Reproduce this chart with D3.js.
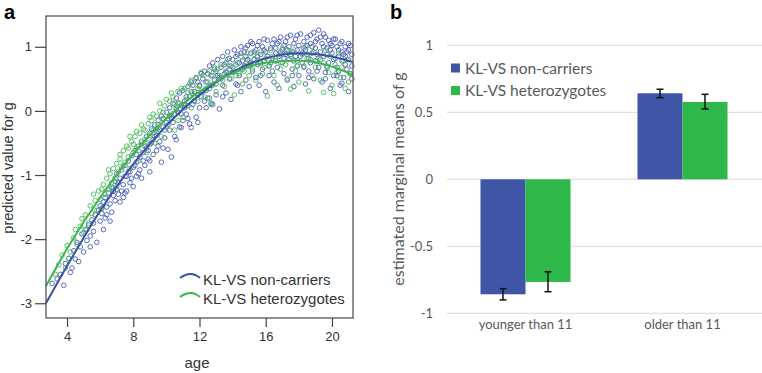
<!DOCTYPE html>
<html>
<head>
<meta charset="utf-8">
<script src="https://cdn.jsdelivr.net/npm/d3@7"></script>
<style>
  body { margin: 0; background: #fff; }
  svg { display: block; }
</style>
</head>
<body>
<span></span>
<script>
// panel a: scatter of predicted g by age, two genotype groups
const nonCarriers = [
  [3.1,-2.69],[3.4,-2.62],[3.6,-2.55],[3.8,-2.72],[3.9,-2.38],[4.1,-2.30],[4.2,-2.52],[4.4,-2.18],[4.5,-2.31],[4.6,-2.05],[4.8,-2.12],[4.9,-1.92],[5.0,-2.20],
  [5.1,-1.85],[5.2,-2.02],[5.3,-1.78],[5.4,-1.95],[5.5,-1.70],[5.6,-1.88],[5.7,-1.62],[5.8,-2.05],[5.9,-1.55],[6.0,-1.72],[6.0,-1.48],[6.1,-1.60],[6.2,-1.42],[6.3,-1.67],[6.3,-1.35],[6.4,-1.50],[6.5,-1.28],[6.6,-1.45],[6.7,-1.20],[6.7,-1.58],[6.8,-1.32],[6.9,-1.10],[6.9,-1.40],[7.0,-1.22],[7.0,-0.98],
  [7.1,-1.30],[7.2,-1.05],[7.2,-1.42],[7.3,-0.92],[7.4,-1.15],[7.4,-1.35],[7.5,-0.85],[7.6,-1.02],[7.6,-1.25],[7.7,-0.78],[7.8,-0.95],[7.8,-1.12],[7.9,-0.70],[8.0,-0.88],[8.0,-1.18],[8.1,-0.62],[8.2,-0.80],[8.3,-0.98],[8.3,-0.55],[8.4,-0.72],[8.5,-1.05],[8.5,-0.48],[8.6,-0.65],[8.7,-0.85],[8.8,-0.40],[8.8,-0.58],[8.9,-0.75],[9.0,-0.95],[9.0,-0.35],[9.0,-0.52],
  [9.1,-0.28],[9.2,-0.45],[9.2,-0.68],[9.3,-0.22],[9.4,-0.38],[9.5,-0.15],[9.5,-0.55],[9.6,-0.30],[9.7,-0.80],[9.7,-0.08],[9.8,-0.25],[9.9,-0.42],[10.0,-0.02],[10.0,-0.18],[10.1,-0.60],[10.2,0.05],[10.2,-0.30],[10.3,-0.12],[10.4,0.12],[10.5,-0.05],[10.5,-0.40],[10.6,0.20],[10.7,-0.02],[10.8,-0.25],[10.8,0.28],[10.9,0.08],[11.0,-0.15],[11.0,0.32],[10.3,-0.72],[9.4,-0.62],[10.9,-0.26],[11.5,-0.26],
  [11.1,0.15],[11.2,-0.05],[11.3,0.38],[11.4,0.22],[11.4,-0.20],[11.5,0.45],[11.6,0.10],[11.7,0.30],[11.8,0.52],[11.8,-0.10],[11.9,0.25],[12.0,0.40],[12.0,0.05],[12.1,0.58],[12.2,0.30],[12.3,0.15],[12.3,0.62],[12.4,0.45],[12.5,0.20],[12.6,0.70],[12.6,0.35],[12.7,0.55],[12.8,0.10],[12.8,0.75],[12.9,0.48],[13.0,0.62],[13.0,0.25],[13.1,0.80],[13.2,0.03],[13.2,0.52],[11.9,-0.18],[12.7,0.12],
  [13.3,0.68],[13.4,0.40],[13.4,0.85],[13.5,0.58],[13.6,0.28],[13.6,0.75],[13.7,0.92],[13.8,0.50],[13.8,0.65],[13.9,0.18],[14.0,0.80],[14.0,0.60],[14.1,0.95],[14.2,0.42],[14.2,0.72],[14.3,0.88],[14.4,0.55],[14.5,1.00],[14.5,0.30],[14.6,0.78],[14.6,0.65],[14.7,0.92],[14.8,0.48],[14.8,0.85],[14.9,1.02],[15.0,0.70],[15.0,0.38],[15.1,0.90],[15.2,0.62],[15.2,1.05],
  [15.3,0.80],[15.4,0.52],[15.4,0.95],[15.5,0.72],[15.6,1.08],[15.6,0.40],[15.7,0.88],[15.8,0.65],[15.8,1.00],[15.9,0.78],[16.0,0.30],[16.0,0.92],[16.1,1.10],[16.2,0.70],[16.2,0.55],[16.3,0.98],[16.4,0.82],[16.5,1.12],[16.5,0.45],[16.6,0.90],[16.7,0.68],[16.7,1.05],[16.8,0.35],[16.8,0.85],[16.9,1.15],[17.0,0.75],[17.0,0.95],[17.1,0.58],[17.2,1.08],[17.2,0.88],
  [17.3,0.48],[17.4,1.00],[17.4,0.80],[17.5,1.18],[17.6,0.65],[17.6,0.92],[17.7,0.38],[17.8,1.12],[17.8,0.85],[17.9,0.70],[18.0,1.02],[18.0,0.55],[18.1,1.20],[18.2,0.90],[18.2,0.75],[18.3,1.08],[18.4,0.42],[18.4,0.95],[18.5,1.15],[18.6,0.82],[18.6,0.62],[18.7,1.05],[18.8,0.90],[18.9,1.22],[18.9,0.50],[19.0,0.98],[19.0,0.78],[19.1,1.12],[19.2,1.26],[19.2,0.68],
  [19.3,0.92],[19.4,1.05],[19.4,0.45],[19.5,0.85],[19.6,1.15],[19.6,0.60],[19.7,0.98],[19.8,0.75],[19.8,1.10],[19.9,0.35],[20.0,0.90],[20.0,1.02],[20.1,0.55],[20.2,0.82],[20.2,1.12],[20.3,0.68],[20.4,0.95],[20.5,0.40],[20.5,1.05],[20.6,0.78],[20.6,0.43],[20.7,0.88],[20.7,0.52],[20.8,1.00],[20.9,0.65],[20.9,0.92],[21.0,0.30],[21.0,0.80],[21.1,1.02],[21.1,0.58],[21.2,0.88],
  [5.6,-1.75],[6.1,-1.52],[6.4,-1.62],[6.8,-1.25],[7.1,-1.12],[7.3,-1.25],[7.5,-1.02],[7.7,-0.95],[7.9,-1.05],[8.1,-0.85],[8.2,-0.68],[8.4,-0.92],[8.6,-0.78],[8.7,-0.55],[8.9,-0.62],[9.1,-0.50],[9.3,-0.40],[9.5,-0.32],[9.6,-0.48],[9.8,-0.12],[9.9,-0.30],[10.1,-0.22],[10.2,-0.08],[10.4,-0.18],[10.6,0.02],[10.7,0.12],[10.9,-0.05],[11.1,0.05],[11.2,0.22],[11.3,0.08],
  [11.5,0.30],[11.6,0.40],[11.7,0.15],[11.9,0.45],[12.1,0.22],[12.2,0.50],[12.4,0.32],[12.5,0.58],[12.7,0.40],[12.9,0.65],[13.0,0.42],[13.1,0.55],[13.3,0.50],[13.5,0.72],[13.6,0.60],[13.8,0.82],[13.9,0.70],[14.1,0.62],[14.2,0.85],[14.4,0.75],[14.5,0.90],[14.7,0.70],[14.8,0.98],[14.9,0.80],[15.1,0.75],[15.1,1.08],[15.3,0.92],[15.5,0.85],[15.5,1.02],[15.7,0.75],
  [15.9,0.95],[15.9,1.12],[16.1,0.85],[16.3,0.75],[16.4,1.05],[16.6,0.98],[16.6,0.78],[16.8,1.08],[16.9,0.92],[17.1,0.82],[17.1,1.02],[17.3,0.95],[17.3,1.15],[17.5,0.88],[17.7,1.05],[17.7,0.78],[17.9,0.95],[17.9,1.18],[18.1,0.85],[18.3,0.98],[18.3,0.68],[18.5,1.02],[18.5,0.88],[18.7,0.75],[18.7,1.18],[18.8,1.00],[19.0,1.08],[19.1,0.88],[19.1,0.62],[19.3,1.15],
  [19.3,0.80],[19.5,1.00],[19.5,1.20],[19.7,0.88],[19.7,0.68],[19.9,1.05],[19.9,0.95],[20.1,0.80],[20.1,1.12],[20.3,1.00],[20.3,0.55],[20.4,0.85],[20.6,1.08],[20.6,0.92],[20.8,0.72],[20.8,0.85],[21.0,0.95],[21.0,1.05],[21.2,0.70],[21.2,0.50],
  [20.4,0.62],[19.6,0.50],[18.6,0.52],[17.6,0.55],[16.4,0.62],[15.7,0.55],[14.3,0.40],[13.4,0.22],[12.4,0.05],[11.3,-0.12],[10.6,-0.45],[9.8,-0.58],[9.0,-0.78],[8.2,-1.02],[7.5,-1.28],[6.6,-1.72],[6.2,-1.85],[5.4,-2.12],[4.7,-2.35],[4.3,-2.45]
];
const heterozygotes = [
  [3.3,-2.55],[3.5,-2.40],[3.7,-2.25],[3.9,-2.45],[4.0,-2.10],[4.2,-2.20],[4.4,-1.98],[4.6,-2.08],[4.8,-1.80],[5.0,-1.90],
  [5.1,-1.62],[5.3,-1.75],[5.4,-1.48],[5.5,-1.60],[5.7,-1.40],[5.8,-1.55],[5.9,-1.25],[6.0,-1.38],[6.2,-1.15],[6.3,-1.30],[6.4,-1.05],[6.5,-1.22],[6.6,-0.98],[6.7,-1.12],[6.8,-0.90],[6.9,-1.05],[7.0,-0.82],[7.0,-1.18],
  [7.1,-0.95],[7.2,-0.75],[7.3,-0.88],[7.4,-0.62],[7.5,-0.80],[7.6,-0.55],[7.7,-0.72],[7.8,-0.90],[7.9,-0.48],[8.0,-0.65],[8.1,-0.40],[8.2,-0.58],[8.3,-0.78],[8.4,-0.35],[8.5,-0.52],[8.6,-0.28],[8.7,-0.45],[8.8,-0.65],[8.9,-0.20],[9.0,-0.38],
  [9.1,-0.15],[9.2,-0.30],[9.3,-0.50],[9.4,-0.08],[9.5,-0.22],[9.6,0.00],[9.7,-0.40],[9.8,-0.12],[9.9,0.08],[10.0,-0.25],[10.2,0.15],[10.3,-0.05],[10.4,0.22],[10.5,-0.30],[10.6,0.05],[10.7,0.30],[10.8,0.12],[11.0,-0.10],
  [11.1,0.35],[11.2,0.18],[11.4,0.42],[11.5,0.05],[11.6,0.28],[11.8,0.50],[11.9,0.15],[12.0,0.38],[12.2,0.55],[12.3,0.22],[12.5,0.45],[12.6,0.62],[12.7,0.10],[12.8,0.40],[12.9,0.68],[13.0,0.30],
  [13.2,0.55],[13.3,0.72],[13.5,0.38],[13.6,0.62],[13.7,0.80],[13.9,0.50],[14.0,0.68],[14.1,0.25],[14.3,0.75],[14.4,0.58],[14.5,0.85],[14.6,0.42],[14.8,0.70],[14.9,0.90],[15.0,0.55],[15.0,0.78],
  [15.2,0.65],[15.3,0.88],[15.4,0.48],[15.6,0.75],[15.7,0.92],[15.8,0.58],[16.0,0.82],[16.1,0.23],[16.2,0.70],[16.3,0.95],[16.5,0.55],[16.6,0.78],[16.7,0.40],[16.8,0.88],[16.9,0.65],[17.0,0.98],
  [17.2,0.72],[17.3,0.50],[17.5,0.34],[17.5,0.85],[17.7,0.95],[17.8,0.62],[17.9,0.78],[18.0,0.45],[18.2,0.88],[18.3,0.70],[18.4,1.00],[18.6,0.31],[18.7,0.80],[18.8,0.55],[18.9,0.92],[19.0,0.68],
  [19.2,0.82],[19.3,0.48],[19.5,0.29],[19.5,0.75],[19.6,0.95],[19.8,0.60],[19.9,0.85],[20.0,0.40],[20.1,0.27],[20.2,0.72],[20.4,0.90],[20.5,0.52],[20.6,0.68],[20.8,0.35],[20.9,0.80],[21.1,0.58],
  [4.1,-2.30],[4.5,-1.85],[4.9,-1.68],[5.2,-1.85],[5.6,-1.30],[6.1,-1.22],[6.1,-1.52],[6.5,-0.92],[6.8,-1.20],[7.2,-0.68],[7.4,-0.85],[7.7,-0.58],[7.8,-0.40],[8.0,-0.52],[8.2,-0.32],[8.3,-0.62],[8.5,-0.22],[8.7,-0.30],[8.9,-0.50],[9.0,-0.10],
  [9.2,-0.05],[9.4,-0.28],[9.6,0.12],[9.8,-0.02],[10.0,0.18],[10.1,-0.12],[10.3,0.28],[10.5,0.10],[10.7,-0.15],[10.9,0.35],[11.1,0.10],[11.3,0.28],[11.5,0.48],[11.7,0.22],[11.9,0.35],[12.1,0.60],[12.4,0.35],[12.6,0.20],[12.8,0.55],[13.1,0.65],
  [13.4,0.48],[13.8,0.70],[14.2,0.55],[14.7,0.62],[15.1,0.72],[15.5,0.80],[15.9,0.68],[16.4,0.85],[16.9,0.75],[17.4,0.92],[17.9,0.70],[18.5,0.82],[19.1,0.78],[19.7,0.70],[20.3,0.60],[20.7,0.78],[21.0,0.45]
];

// fitted curves at these ages
const fitAges  = [2.73, 4, 6, 8, 10, 12, 14, 16, 18, 20, 21.27];
const fitBlue  = [-3.0, -2.42, -1.56, -0.83, -0.23, 0.25, 0.61, 0.82, 0.90, 0.85, 0.76];
const fitGreen = [-2.73, -2.15, -1.35, -0.67, -0.12, 0.30, 0.59, 0.75, 0.786, 0.69, 0.56];

const ageTicks = [4, 8, 12, 16, 20];
const gTicks = [-3, -2, -1, 0, 1];

// panel b: estimated marginal means with error bars
const groups = ['younger than 11', 'older than 11'];
const series = ['KL-VS non-carriers', 'KL-VS heterozygotes'];
const meanNon = [-0.858, 0.642];
const meanHet = [-0.766, 0.577];
const errNon = [[-0.900, -0.816], [0.609, 0.672]];
const errHet = [[-0.839, -0.690], [0.525, 0.634]];
const emmTicks = [-1, -0.5, 0, 0.5, 1];

const blue = '#3f55a6';
const green = '#2fb84a';

const svg = d3.select('span').append('svg')
    .attr('width', 762)
    .attr('height', 373);

// ---------- panel a ----------
const ax = d3.scaleLinear().domain([2.73, 21.27]).range([46, 353]);
const ay = d3.scaleLinear().domain([-3.23, 1.48]).range([318, 16]);

const pa = svg.append('g').style('font-family', '"Liberation Sans", Arial, sans-serif');

pa.append('text').attr('x', 4).attr('y', 19)
    .style('font-size', '20px').style('font-weight', 'bold').text('a');

const dots = pa.append('g').attr('fill', 'none').attr('stroke-width', 0.9);
dots.selectAll('.nc').data(nonCarriers).join('circle')
    .attr('cx', d => ax(d[0])).attr('cy', d => ay(d[1])).attr('r', 2.3)
    .attr('stroke', '#4a5cb6');
dots.selectAll('.het').data(heterozygotes).join('circle')
    .attr('class', 'het')
    .attr('cx', d => ax(d[0])).attr('cy', d => ay(d[1])).attr('r', 2.3)
    .attr('stroke', '#44bb55');

const fitLine = vals => d3.line()
    .x((d, i) => ax(fitAges[i]))
    .y(d => ay(d))
    .curve(d3.curveMonotoneX)(vals);

pa.append('path').attr('d', fitLine(fitBlue))
    .attr('fill', 'none').attr('stroke', '#3a52a3').attr('stroke-width', 2);
pa.append('path').attr('d', fitLine(fitGreen))
    .attr('fill', 'none').attr('stroke', '#3cb64a').attr('stroke-width', 2);

// frame
pa.append('rect').attr('x', 46).attr('y', 16).attr('width', 307).attr('height', 302)
    .attr('fill', 'none').attr('stroke', '#555').attr('stroke-width', 1.3);

const xAxisA = pa.append('g').attr('transform', 'translate(0,318)')
    .call(d3.axisBottom(ax).tickValues(ageTicks).tickSize(9).tickPadding(5).tickFormat(d => d));
const yAxisA = pa.append('g').attr('transform', 'translate(46,0)')
    .call(d3.axisLeft(ay).tickValues(gTicks).tickSize(11).tickPadding(3).tickFormat(d => d));
[xAxisA, yAxisA].forEach(g => {
    g.select('.domain').remove();
    g.selectAll('line').attr('stroke', '#444').attr('stroke-width', 1.2);
    g.selectAll('text').attr('fill', '#333').style('font-size', '13px')
        .style('font-family', '"Liberation Sans", Arial, sans-serif');
});

pa.append('text').attr('x', 197).attr('y', 368).attr('text-anchor', 'middle')
    .attr('fill', '#333').style('font-size', '15px').text('age');
pa.append('text').attr('transform', 'translate(13,168) rotate(-90)')
    .attr('text-anchor', 'middle').attr('fill', '#333')
    .style('font-size', '14.5px').text('predicted value for g');

// legend a
const legA = pa.append('g');
legA.append('path').attr('d', 'M180,278 Q191,270 200,278')
    .attr('fill', 'none').attr('stroke', '#3a52a3').attr('stroke-width', 2);
legA.append('path').attr('d', 'M180,297 Q191,289 200,297')
    .attr('fill', 'none').attr('stroke', '#3cb64a').attr('stroke-width', 2);
legA.append('text').attr('x', 203).attr('y', 285).attr('fill', '#333')
    .style('font-size', '15px').text(series[0]);
legA.append('text').attr('x', 203).attr('y', 304).attr('fill', '#333')
    .style('font-size', '15px').text(series[1]);

// ---------- panel b ----------
const pb = svg.append('g').style('font-family', 'Lato, "Open Sans", sans-serif');

pb.append('text').attr('x', 390).attr('y', 19)
    .style('font-size', '20px').style('font-weight', 'bold')
    .style('font-family', '"Liberation Sans", Arial, sans-serif').text('b');

const bx0 = d3.scaleBand().domain(groups).range([447, 761]);
const bx1 = d3.scaleBand().domain(series).range([0, bx0.bandwidth()])
    .paddingInner(0).paddingOuter(0.744);
const by = d3.scaleLinear().domain([-1, 1]).range([313.3, 45.3]);

pb.append('g').selectAll('line').data(emmTicks).join('line')
    .attr('x1', 447).attr('x2', 762)
    .attr('y1', d => by(d)).attr('y2', d => by(d))
    .attr('stroke', '#d9d9d9').attr('stroke-width', 1);

pb.append('g').selectAll('text').data(emmTicks).join('text')
    .attr('x', 433).attr('y', d => by(d) + 4.5)
    .attr('text-anchor', 'end').attr('fill', '#595959')
    .style('font-size', '13px').text(d => d);

const barData = [];
groups.forEach((g, i) => {
    barData.push({group: g, type: series[0], v: meanNon[i], err: errNon[i], color: blue});
    barData.push({group: g, type: series[1], v: meanHet[i], err: errHet[i], color: green});
});

pb.append('g').selectAll('rect').data(barData).join('rect')
    .attr('x', d => bx0(d.group) + bx1(d.type))
    .attr('width', bx1.bandwidth())
    .attr('y', d => by(Math.max(0, d.v)))
    .attr('height', d => Math.abs(by(d.v) - by(0)))
    .attr('fill', d => d.color);

const eb = pb.append('g').attr('stroke', '#111').attr('stroke-width', 1.5);
barData.forEach(d => {
    const cx = bx0(d.group) + bx1(d.type) + bx1.bandwidth() / 2;
    eb.append('line').attr('x1', cx).attr('x2', cx).attr('y1', by(d.err[0])).attr('y2', by(d.err[1]));
    eb.append('line').attr('x1', cx - 3.5).attr('x2', cx + 3.5).attr('y1', by(d.err[0])).attr('y2', by(d.err[0]));
    eb.append('line').attr('x1', cx - 3.5).attr('x2', cx + 3.5).attr('y1', by(d.err[1])).attr('y2', by(d.err[1]));
});

pb.append('g').selectAll('text').data(groups).join('text')
    .attr('x', d => bx0(d) + bx0.bandwidth() / 2).attr('y', 329)
    .attr('text-anchor', 'middle').attr('fill', '#595959')
    .style('font-size', '13px').text(d => d);

pb.append('text').attr('transform', 'translate(404,179) rotate(-90)')
    .attr('text-anchor', 'middle').attr('fill', '#595959')
    .style('font-size', '16px').text('estimated marginal means of g');

// legend b
const legB = pb.append('g');
series.forEach((s, i) => {
    legB.append('rect').attr('x', 451).attr('y', 63.5 + i * 22.5)
        .attr('width', 9).attr('height', 9).attr('fill', i == 0 ? blue : green);
    legB.append('text').attr('x', 465).attr('y', 73.5 + i * 22.5)
        .attr('fill', '#595959').style('font-size', '15.5px').text(s);
});
</script>
</body>
</html>
